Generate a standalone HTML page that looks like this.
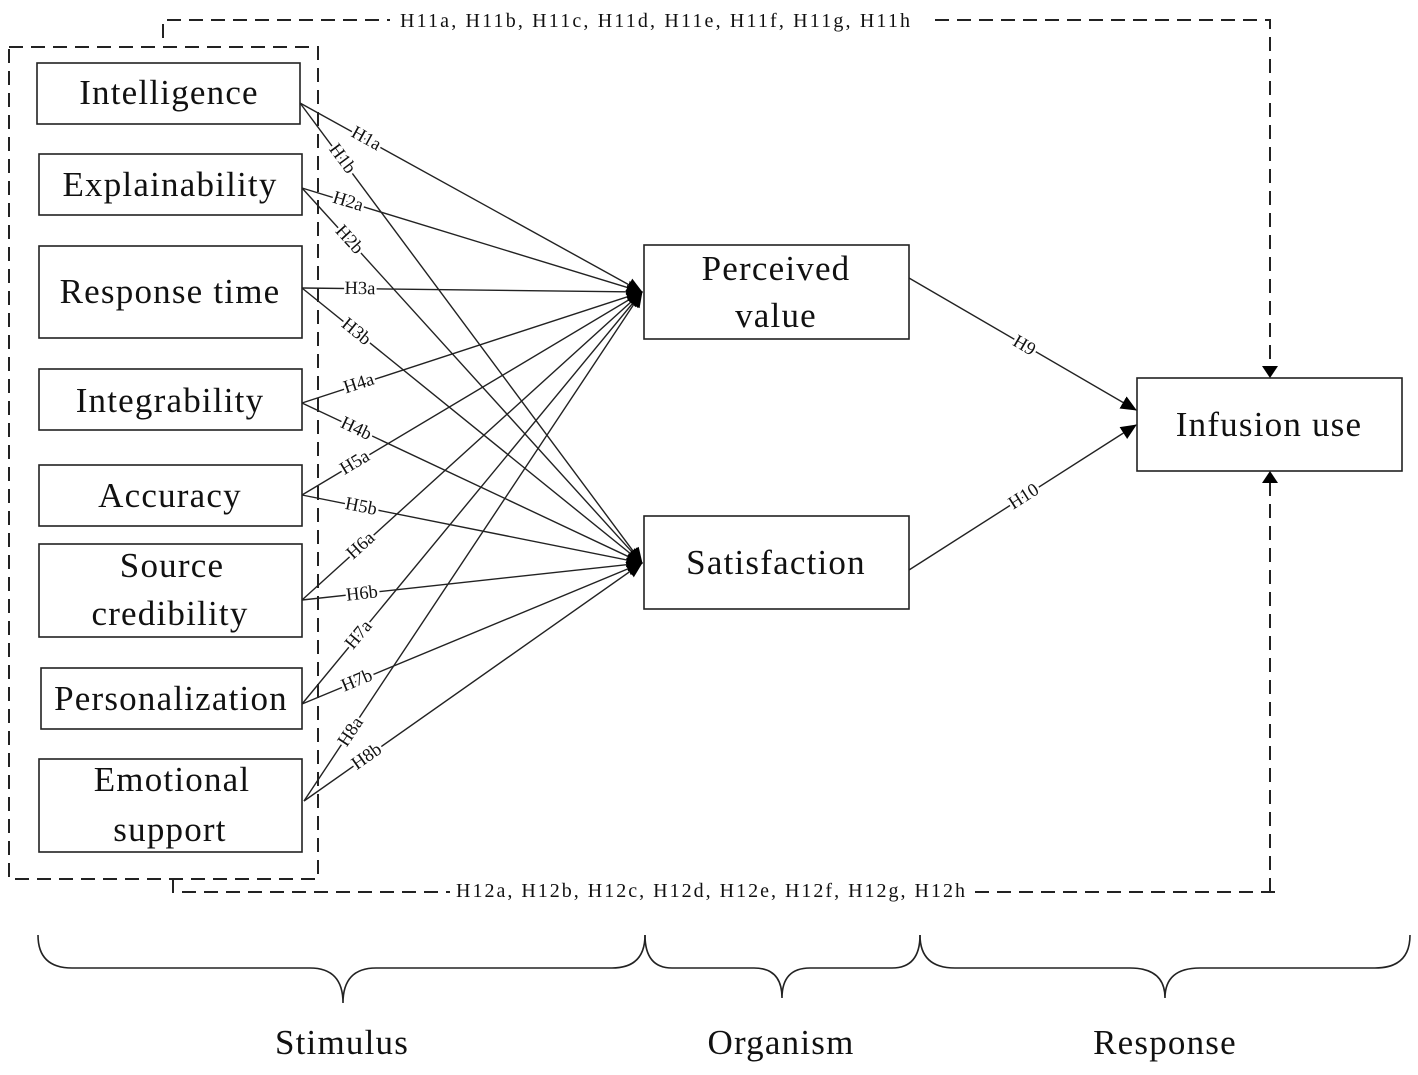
<!DOCTYPE html>
<html><head><meta charset="utf-8"><style>
html,body{margin:0;padding:0;background:#fff;}
svg{display:block;}
text{font-family:"Liberation Serif",serif;fill:#111;}
.b{font-size:35px;text-anchor:middle;letter-spacing:1.2px;}
.l{font-size:18.5px;text-anchor:middle;dominant-baseline:central;stroke:#fff;stroke-width:5px;paint-order:stroke;}
.t{font-size:20px;}
</style></head><body>
<svg width="1418" height="1075" viewBox="0 0 1418 1075" xmlns="http://www.w3.org/2000/svg">
<defs>
<marker id="a2" markerWidth="16" markerHeight="16" refX="15" refY="8" orient="auto" markerUnits="userSpaceOnUse" viewBox="0 0 16 16"><path d="M0,1 L16,8 L0,15 z" fill="#000"/></marker>
</defs>
<g fill="none" stroke="#222" stroke-width="1.6">
<g stroke-dasharray="14,8" stroke-width="2">
<rect x="9" y="47" width="309" height="832"/>
<path d="M163,38 L163,20 L390,20"/>
<path d="M935,20 L1270,20 L1270,368"/>
<path d="M173,879 L173,892 L450,892"/>
<path d="M975,892 L1282,892"/>
<path d="M1270,892 L1270,481"/>
</g>
<rect x="37" y="63" width="263" height="61"/>
<rect x="39" y="154" width="263" height="61"/>
<rect x="39" y="246" width="263" height="92"/>
<rect x="39" y="369" width="263" height="61"/>
<rect x="39" y="465" width="263" height="61"/>
<rect x="39" y="544" width="263" height="93"/>
<rect x="41" y="668" width="261" height="61"/>
<rect x="39" y="759" width="263" height="93"/>
<rect x="644" y="245" width="265" height="94"/>
<rect x="644" y="516" width="265" height="93"/>
<rect x="1137" y="378" width="265" height="93"/>
<g stroke-width="1.4">
<line x1="300" y1="103" x2="642" y2="292" marker-end="url(#a2)"/>
<line x1="300" y1="103" x2="642" y2="563" marker-end="url(#a2)"/>
<line x1="302" y1="188" x2="642" y2="292" marker-end="url(#a2)"/>
<line x1="302" y1="188" x2="642" y2="563" marker-end="url(#a2)"/>
<line x1="302" y1="288" x2="642" y2="292" marker-end="url(#a2)"/>
<line x1="302" y1="288" x2="642" y2="563" marker-end="url(#a2)"/>
<line x1="302" y1="403" x2="642" y2="292" marker-end="url(#a2)"/>
<line x1="302" y1="403" x2="642" y2="563" marker-end="url(#a2)"/>
<line x1="302" y1="495" x2="642" y2="292" marker-end="url(#a2)"/>
<line x1="302" y1="495" x2="642" y2="563" marker-end="url(#a2)"/>
<line x1="302" y1="600" x2="642" y2="292" marker-end="url(#a2)"/>
<line x1="302" y1="600" x2="642" y2="563" marker-end="url(#a2)"/>
<line x1="302" y1="704" x2="642" y2="292" marker-end="url(#a2)"/>
<line x1="302" y1="704" x2="642" y2="563" marker-end="url(#a2)"/>
<line x1="304" y1="801" x2="642" y2="292" marker-end="url(#a2)"/>
<line x1="304" y1="801" x2="642" y2="563" marker-end="url(#a2)"/>
<line x1="909" y1="278" x2="1136" y2="410" marker-end="url(#a2)"/>
<line x1="909" y1="570" x2="1136" y2="425" marker-end="url(#a2)"/>
</g>
<path d="M1262,366 L1278,366 L1270,378 z" fill="#000" stroke="none"/>
<path d="M1262,483 L1278,483 L1270,471 z" fill="#000" stroke="none"/>
<path d="M38,935 Q38,968 72,968 L310,968 Q343,968 343,1003 Q343,968 376,968 L612,968 Q645,968 645,935"/>
<path d="M645,935 Q645,968 672,968 L754,968 Q782,968 782,998 Q782,968 810,968 L892,968 Q920,968 920,935"/>
<path d="M920,935 Q920,968 955,968 L1130,968 Q1165,968 1165,998 Q1165,968 1200,968 L1375,968 Q1410,968 1410,935"/>
</g>
<text class="b" x="169" y="104">Intelligence</text>
<text class="b" x="170" y="196">Explainability</text>
<text class="b" x="170" y="303">Response time</text>
<text class="b" x="170" y="412">Integrability</text>
<text class="b" x="170" y="507">Accuracy</text>
<text class="b" x="172" y="577">Source</text>
<text class="b" x="170" y="625">credibility</text>
<text class="b" x="171" y="710">Personalization</text>
<text class="b" x="172" y="791">Emotional</text>
<text class="b" x="170" y="841">support</text>
<text class="b" x="776" y="280">Perceived</text>
<text class="b" x="776" y="327">value</text>
<text class="b" x="776" y="574">Satisfaction</text>
<text class="b" x="1269" y="436">Infusion use</text>
<text class="l" transform="translate(366,139) rotate(28.9)">H1a</text>
<text class="l" transform="translate(342,159) rotate(53.4)">H1b</text>
<text class="l" transform="translate(348,202) rotate(17)">H2a</text>
<text class="l" transform="translate(349,240) rotate(47.8)">H2b</text>
<text class="l" transform="translate(360,289) rotate(0.7)">H3a</text>
<text class="l" transform="translate(356,332) rotate(39)">H3b</text>
<text class="l" transform="translate(359,384) rotate(-18)">H4a</text>
<text class="l" transform="translate(356,429) rotate(25.2)">H4b</text>
<text class="l" transform="translate(355,463) rotate(-30.8)">H5a</text>
<text class="l" transform="translate(361,507) rotate(11.3)">H5b</text>
<text class="l" transform="translate(361,546) rotate(-42.2)">H6a</text>
<text class="l" transform="translate(362,594) rotate(-6.2)">H6b</text>
<text class="l" transform="translate(359,635) rotate(-50.5)">H7a</text>
<text class="l" transform="translate(357,681) rotate(-22.5)">H7b</text>
<text class="l" transform="translate(351,732) rotate(-56.4)">H8a</text>
<text class="l" transform="translate(367,757) rotate(-35.2)">H8b</text>
<text class="l" transform="translate(1024,346) rotate(30.2)">H9</text>
<text class="l" transform="translate(1024,497) rotate(-32.6)">H10</text>
<text class="t" x="400" y="27" textLength="510" lengthAdjust="spacing">H11a, H11b, H11c, H11d, H11e, H11f, H11g, H11h</text>
<text class="t" x="456" y="897" textLength="509" lengthAdjust="spacing">H12a, H12b, H12c, H12d, H12e, H12f, H12g, H12h</text>
<text class="b" x="342" y="1054">Stimulus</text>
<text class="b" x="781" y="1054">Organism</text>
<text class="b" x="1165" y="1054">Response</text>
</svg>
</body></html>
